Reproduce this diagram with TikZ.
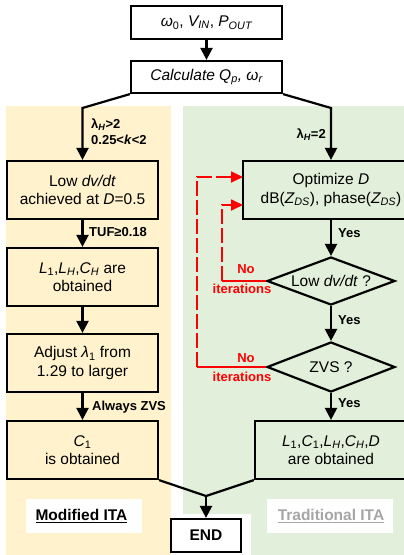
\documentclass[tikz,border=0pt]{standalone}
\usepackage{fontspec}
\setmainfont{Liberation Sans}
\usetikzlibrary{shapes.geometric,arrows.meta}
\definecolor{beige}{HTML}{FFF2CC}
\definecolor{lgreen}{HTML}{E2EFDA}
\definecolor{gtxt}{HTML}{A6A6A6}
\newcommand{\sbs}[1]{\textsubscript{#1}}
\begin{document}
\begin{tikzpicture}[x=1pt,y=-1pt,
  box/.style={draw=black, line width=2.2pt, inner sep=0pt, align=center,
    font=\fontsize{15.5}{18.5}\selectfont},
  lbl/.style={inner sep=0pt, align=left, font=\bfseries\fontsize{13}{16}\selectfont},
  rlbl/.style={lbl, text=red, align=center},
  arr/.style={line width=2.2pt, -{Triangle[length=12pt,width=12pt]}},
  ln/.style={line width=2.2pt},
  rarr/.style={draw=red, line width=1.8pt, dash pattern=on 15pt off 4pt, -{Triangle[length=12pt,width=11pt]}},
  rln/.style={draw=red, line width=1.8pt}]
\useasboundingbox (0,0) rectangle (404,555);
\clip (0,0) rectangle (404,555);
% backgrounds
\fill[beige] (6,106) rectangle (171,555);
\fill[lgreen] (183,106) rectangle (404,555);
\fill[white] (171,514) rectangle (251,555);
\fill[white] (26,499) rectangle (142,533);
\fill[white] (267,499) rectangle (393,533);
% boxes
\node[box, fill=white, minimum width=151pt, minimum height=33pt] (top) at (206.5,22.5)
  {\textit{ω}\sbs{0}, \textit{V\sbs{IN}}, \textit{P\sbs{OUT}}};
\node[box, fill=white, minimum width=151pt, minimum height=32pt] (calc) at (206.5,77)
  {\textit{Calculate Q\sbs{p}, ω\sbs{r}}};
\node[box, fill=beige, minimum width=151pt, minimum height=58pt] (l1) at (82.5,190)
  {Low \textit{dv/dt}\\achieved at \textit{D}=0.5};
\node[box, fill=beige, minimum width=151pt, minimum height=58pt] (l2) at (82.5,277)
  {\textit{L}\sbs{1},\textit{L\sbs{H}},\textit{C\sbs{H}} are\\obtained};
\node[box, fill=beige, minimum width=151pt, minimum height=58pt] (l3) at (82.5,363)
  {Adjust \textit{λ}\sbs{1} from\\1.29 to larger};
\node[box, fill=beige, minimum width=151pt, minimum height=58pt] (l4) at (82.5,450)
  {\textit{C}\sbs{1}\\is obtained};
\node[box, fill=lgreen, minimum width=176pt, minimum height=58pt] (r1) at (331,190)
  {Optimize \textit{D}\\dB(\textit{Z\sbs{DS}}), phase(\textit{Z\sbs{DS}})};
\node[box, diamond, fill=lgreen, minimum width=128pt, minimum height=48pt] (d1) at (331,281) {};
\node[inner sep=0pt, font=\fontsize{15.5}{18.5}\selectfont] (d1t) at (d1.center) {Low \textit{dv/dt} ?};
\node[box, diamond, fill=lgreen, minimum width=128pt, minimum height=50pt] (d2) at (331,367) {};
\node[inner sep=0pt, font=\fontsize{15.5}{18.5}\selectfont] (d2t) at (d2.center) {ZVS ?};
\node[box, fill=lgreen, minimum width=152pt, minimum height=58pt] (r2) at (331,450)
  {\textit{L}\sbs{1},\textit{C}\sbs{1},\textit{L\sbs{H}},\textit{C\sbs{H}},\textit{D}\\are obtained};
\node[box, fill=white, minimum width=70pt, minimum height=33pt, font=\bfseries\fontsize{15.5}{18.5}\selectfont] (end) at (206,535.5) {END};
% coordinates
\coordinate (bl) at (82.5,108);
\coordinate (br) at (331,108);
\coordinate (mg) at (206,496);
\coordinate (ia) at (222,281);
\coordinate (ib) at (222,205);
\coordinate (ic) at (243,205);
\coordinate (oa) at (197,367);
\coordinate (ob) at (197,177);
\coordinate (oc) at (243,177);
% connectors
\draw[arr] (top.south) -- (calc.north);
\draw[arr] (calc.south west) -- (bl) -- (l1.north);
\draw[arr] (calc.south east) -- (br) -- (r1.north);
\draw[arr] (l1.south) -- (l2.north);
\draw[arr] (l2.south) -- (l3.north);
\draw[arr] (l3.south) -- (l4.north);
\draw[arr] (r1.south) -- (d1.north);
\draw[arr] (d1.south) -- (d2.north);
\draw[arr] (d2.south) -- (r2.north);
\draw[ln] (l4.south east) -- (mg);
\draw[ln] (r2.south west) -- (mg);
\draw[arr] (mg) -- (end.north);
% red feedback
\draw[rln] (d1.west) -- (ia);
\draw[rarr] (ia) -- (ib) -- (ic);
\draw[rln] (d2.west) -- (oa);
\draw[rarr] (oa) -- (ob) -- (oc);
% labels
\node[lbl, anchor=west] (lab1) at (91,132) {λ\sbs{\textit{H}}>2\\0.25<\textit{k}<2};
\node[lbl, anchor=east] (lab2) at (326,135) {λ\sbs{\textit{H}}=2};
\node[lbl, anchor=west] (lab3) at (89,232) {TUF≥0.18};
\node[lbl, anchor=west] (lab4) at (92,407) {Always ZVS};
\node[lbl, anchor=west] (y1) at (338,233) {Yes};
\node[lbl, anchor=west] (y2) at (338,320) {Yes};
\node[lbl, anchor=west] (y3) at (338,403) {Yes};
\node[rlbl] (n1) at (246,269) {No};
\node[rlbl] (it1) at (242,289) {iterations};
\node[rlbl] (n2) at (246,358) {No};
\node[rlbl] (it2) at (242,377) {iterations};
\node[inner sep=0pt, font=\bfseries\fontsize{15.5}{18.5}\selectfont] (mod) at (81.5,516) {\underline{Modified ITA}};
\node[inner sep=0pt, text=gtxt, font=\bfseries\fontsize{15.5}{18.5}\selectfont] (trad) at (331,516) {\underline{Traditional ITA}};
\end{tikzpicture}
\end{document}
